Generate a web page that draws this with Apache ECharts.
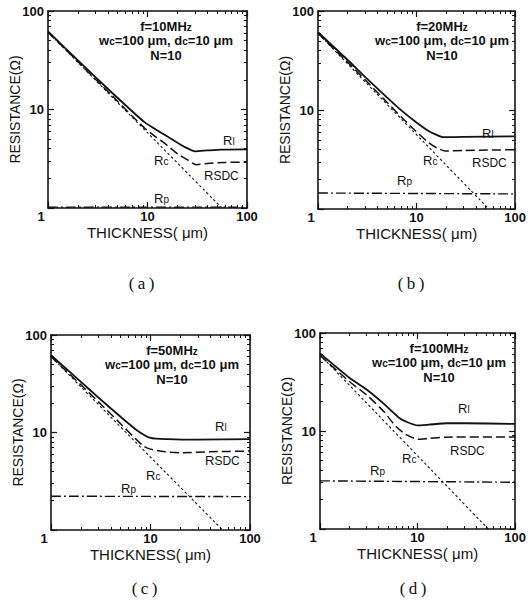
<!DOCTYPE html>
<html>
<head>
<meta charset="utf-8">
<style>
  html, body { margin: 0; padding: 0; background: #fff; }
  #chart { width: 529px; height: 616px; }
</style>
<script src="https://cdn.jsdelivr.net/npm/echarts@6/dist/echarts.min.js"></script>
</head>
<body>
<div id="chart"></div>
<script>
(function() {
  var ink = '#111';
  var sans = "'Liberation Sans', Arial, sans-serif";
  var serif = "'Liberation Serif', 'Times New Roman', serif";

  var minorTicks = [2, 3, 4, 5, 6, 7, 8, 9, 20, 30, 40, 50, 60, 70, 80, 90];
  var freqs = ['10', '20', '50', '100'];
  var captions = ['(\u2009a\u2009)', '(\u2009b\u2009)', '(\u2009c\u2009)', '(\u2009d\u2009)'];

  // (a) f = 10 MHz  -- [thickness um, resistance ohm]
  var rlA = [[1, 62], [2, 31.5], [4.4, 14.8], [7, 9.6], [9.4, 7.4], [12, 6.3], [15, 5.5], [20, 4.6], [25, 4.05], [30, 3.76], [40, 3.84], [55, 3.92], [100, 3.94]];
  var rsdcA = [[1, 61], [2, 30.6], [4.4, 13.8], [7, 8.6], [9.4, 6.45], [12, 5.3], [15, 4.5], [20, 3.55], [25, 3.1], [31, 2.75], [42, 2.85], [60, 2.9], [100, 2.92]];
  var rcA = [[1, 61], [56, 1]];
  var rpA = [[1, 1.02], [100, 1.02]];

  // (b) f = 20 MHz
  var rlB = [[1, 61], [2, 32], [3, 21.6], [5, 13.4], [7, 9.9], [9.6, 7.7], [13, 6.2], [16, 5.6], [18.5, 5.32], [30, 5.35], [100, 5.42]];
  var rsdcB = [[1, 59.5], [2, 30.3], [3, 20.2], [5, 12], [7, 8.5], [9.6, 6.25], [13, 4.75], [16, 4.15], [19.5, 3.85], [30, 3.9], [100, 3.97]];
  var rcB = [[1, 59.5], [54, 1]];
  var rpB = [[1, 1.45], [100, 1.42]];

  // (c) f = 50 MHz
  var rlC = [[1, 62], [2, 33], [3, 22.8], [5, 14.5], [7.35, 10.5], [10, 8.8], [15, 8.55], [30, 8.45], [100, 8.55]];
  var rsdcC = [[1, 60], [2, 30.8], [3, 20.6], [5, 12.3], [7, 8.7], [8.6, 7.2], [10, 6.75], [14, 6.35], [20, 6.2], [40, 6.35], [100, 6.45]];
  var rcC = [[1, 60], [53, 1]];
  var rpC = [[1, 2.22], [100, 2.2]];

  // (d) f = 100 MHz
  var rlD = [[1, 62], [2, 35], [3, 26.5], [4.5, 19], [6.5, 13.6], [8, 12.2], [10, 11.4], [13, 11.6], [20, 12], [30, 12], [100, 11.8]];
  var rsdcD = [[1, 59], [2, 32], [3, 23.4], [4.5, 15.8], [6, 11.1], [7.5, 9.3], [10, 8.25], [13, 8.4], [20, 8.65], [100, 8.7]];
  var rcD = [[1, 60], [53, 1]];
  var rpD = [[1, 3.1], [100, 3.0]];

  var panels = [
    { rl: rlA, rsdc: rsdcA, rc: rcA, rp: rpA },
    { rl: rlB, rsdc: rsdcB, rc: rcB, rp: rpB },
    { rl: rlC, rsdc: rsdcC, rc: rcC, rp: rpC },
    { rl: rlD, rsdc: rsdcD, rc: rcD, rp: rpD }
  ];

  // layout of each plot box and its labels (pixels)
  var grids = [
    { left: 48, top: 11, width: 199, height: 197 },
    { left: 318, top: 11, width: 198, height: 198 },
    { left: 51, top: 335, width: 199, height: 195 },
    { left: 320, top: 333, width: 198, height: 196 }
  ];
  var noteX = [118, 124, 121, 119];
  var captionY = [283, 283, 588, 588];
  var labelPos = [
    { rl: [223, 140], rc: [154, 160], rsdc: [204, 175], rp: [154, 198] },
    { rl: [482, 133], rc: [423, 160], rsdc: [472, 162], rp: [397, 180] },
    { rl: [215, 426], rc: [146, 475], rsdc: [205, 460], rp: [121, 488] },
    { rl: [458, 408], rc: [402, 458], rsdc: [450, 450], rp: [370, 470] }
  ];

  var chart = echarts.init(document.getElementById('chart'), null, { renderer: 'svg' });

  function xAxes(g) {
    var common = { gridIndex: g, type: 'log', logBase: 10, min: 1, max: 100, splitLine: { show: false } };
    var main = Object.assign({}, common, {
      position: 'bottom',
      axisLine: { lineStyle: { color: ink, width: 1.6 } },
      axisTick: { inside: true, length: 6, lineStyle: { color: ink, width: 1.2 } },
      axisLabel: {
        color: ink, fontFamily: sans, fontSize: 13, fontWeight: 'bold', margin: 2, lineHeight: 13,
        formatter: function(v) { return Math.round(v) === 1 ? '{o|1}' : String(Math.round(v)); },
        rich: { o: { fontFamily: sans, fontSize: 13, fontWeight: 'bold', color: ink, lineHeight: 13, padding: [0, 14, 0, 0] } }
      },
      name: 'THICKNESS( \u03bcm)', nameLocation: 'middle', nameGap: 17, nameMoveOverlap: false,
      nameTextStyle: { color: ink, fontFamily: sans, fontSize: 15, lineHeight: 15, verticalAlign: 'top' }
    });
    var minorB = Object.assign({}, common, {
      position: 'bottom', axisLine: { show: false }, axisLabel: { show: false },
      axisTick: { inside: true, length: 3, customValues: minorTicks, lineStyle: { color: ink, width: 1 } }
    });
    var top = Object.assign({}, common, {
      position: 'top', axisLabel: { show: false },
      axisLine: { lineStyle: { color: ink, width: 1.6 } },
      axisTick: { inside: true, length: 6, lineStyle: { color: ink, width: 1.2 } }
    });
    var minorT = Object.assign({}, minorB, { position: 'top' });
    return [main, minorB, top, minorT];
  }

  function yAxes(g) {
    var common = { gridIndex: g, type: 'log', logBase: 10, min: 1, max: 100, splitLine: { show: false } };
    var main = Object.assign({}, common, {
      position: 'left',
      axisLine: { lineStyle: { color: ink, width: 1.6 } },
      axisTick: { inside: true, length: 6, lineStyle: { color: ink, width: 1.2 } },
      axisLabel: {
        color: ink, fontFamily: sans, fontSize: 13, fontWeight: 'bold', margin: 4,
        formatter: function(v) { return v < 2 ? '' : String(Math.round(v)); }
      },
      name: 'RESISTANCE(\u03a9)', nameLocation: 'middle', nameGap: 26, nameRotate: 90, nameMoveOverlap: false,
      nameTextStyle: { color: ink, fontFamily: sans, fontSize: 14, lineHeight: 14 }
    });
    var minorL = Object.assign({}, common, {
      position: 'left', axisLine: { show: false }, axisLabel: { show: false },
      axisTick: { inside: true, length: 3, customValues: minorTicks, lineStyle: { color: ink, width: 1 } }
    });
    var right = Object.assign({}, common, {
      position: 'right', axisLabel: { show: false },
      axisLine: { lineStyle: { color: ink, width: 1.6 } },
      axisTick: { inside: true, length: 6, lineStyle: { color: ink, width: 1.2 } }
    });
    var minorR = Object.assign({}, minorL, { position: 'right' });
    return [main, minorL, right, minorR];
  }

  function line(g, data, type, width) {
    return {
      type: 'line', xAxisIndex: g * 4, yAxisIndex: g * 4, data: data,
      symbol: 'none', smooth: 0.2, silent: true,
      lineStyle: { color: ink, width: width, type: type }
    };
  }

  function text(x, y, str, size, align, extra) {
    var st = {
      text: str, fill: ink, fontFamily: sans, fontSize: size,
      align: align, verticalAlign: 'middle', lineHeight: size,
      rich: {
        s: { fontFamily: sans, fontSize: size - 3, lineHeight: 6, verticalAlign: 'bottom', fill: ink },
        b: { fontFamily: sans, fontSize: size - 1, lineHeight: 7, verticalAlign: 'bottom', fill: ink }
      }
    };
    if (extra) {
      Object.assign(st, extra);
      if (extra.fontWeight) {
        st.rich.s.fontWeight = extra.fontWeight;
        st.rich.b.fontWeight = extra.fontWeight;
      }
    }
    return { type: 'text', x: x, y: y, silent: true, style: st };
  }

  var xAxis = [], yAxis = [], series = [], graphic = [];
  for (var g = 0; g < 4; g++) {
    xAxis = xAxis.concat(xAxes(g));
    yAxis = yAxis.concat(yAxes(g));
    var p = panels[g];
    series.push(line(g, p.rl, 'solid', 1.8));
    series.push(line(g, p.rsdc, [9, 4], 1.5));
    series.push(line(g, p.rc, [2.5, 2.5], 1.1));
    series.push(line(g, p.rp, [10, 3, 2, 3], 1.4));

    var gr = grids[g];
    var cx = gr.left + noteX[g];
    var bold = { fontWeight: 'bold' };
    graphic.push(text(cx, gr.top + 15, 'f=' + freqs[g] + 'MH{s|z}', 13, 'center', bold));
    graphic.push(text(cx, gr.top + 29, 'w{s|c}=100 \u03bcm, d{s|c}=10 \u03bcm', 13, 'center', bold));
    graphic.push(text(cx, gr.top + 44, 'N=10', 13, 'center', bold));

    var lp = labelPos[g];
    graphic.push(text(lp.rl[0], lp.rl[1], 'R{s|l}', 13, 'left'));
    graphic.push(text(lp.rc[0], lp.rc[1], 'R{s|c}', 13, 'left'));
    graphic.push(text(lp.rsdc[0], lp.rsdc[1], 'R{b|SDC}', 13, 'left'));
    graphic.push(text(lp.rp[0], lp.rp[1], 'R{s|p}', 13, 'left'));

    graphic.push(text(gr.left + gr.width / 2 - 6, captionY[g], captions[g], 17, 'center', { fontFamily: serif }));
  }

  chart.setOption({
    animation: false,
    backgroundColor: '#fff',
    grid: grids,
    xAxis: xAxis,
    yAxis: yAxis,
    series: series,
    graphic: graphic
  });
  window.addEventListener('resize', function() { chart.resize(); });
})();
</script>
</body>
</html>
